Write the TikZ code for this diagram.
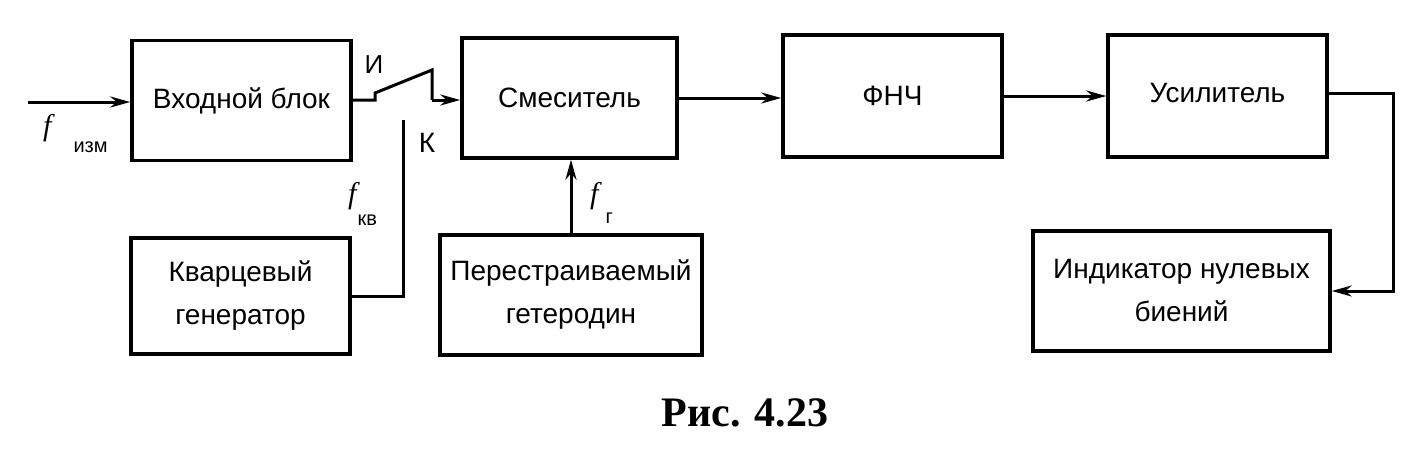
\documentclass[tikz,border=0pt]{standalone}
\usepackage{fontspec}
\setmainfont{Liberation Sans}
\newfontfamily\capfont{Liberation Serif}
\usetikzlibrary{arrows.meta}
\tikzset{
	block/.style = {draw, line width = 3.5pt, minimum width = 219pt, minimum height = 120pt, align = center, font = \fontsize{28}{43}\selectfont},
	link/.style = {line width = 3pt},
	lab/.style = {inner sep = 0pt, anchor = base west, font = \capfont\itshape\fontsize{30}{30}\selectfont}
}
\newcommand{\subtext}[1]{{\fontsize{20}{20}\selectfont\upshape\rmfamily #1}}
\begin{document}
\begin{tikzpicture}[x = 1pt, y = -1pt, > = {Stealth[length = 20pt, width = 11pt]}]
	\useasboundingbox (0,0) rectangle (1410,455);
	% blocks
	\node [block] (input) at (241.5,100.5) {Входной блок};
	\node [block, minimum width = 215pt] (mixer) at (569.5,98) {Смеситель};
	\node [block, minimum height = 122pt] (lpf) at (892.5,96) {ФНЧ};
	\node [block, minimum height = 122pt] (amp) at (1217.5,96) {\raisebox{7pt}{Усилитель}};
	\node [block, minimum width = 297pt] (ind) at (1181.5,291) {Индикатор нулевых\\биений};
	\node [block, minimum height = 116pt] (quartz) at (240.5,296) {Кварцевый\\генератор};
	\node [block, minimum width = 262pt] (lo) at (571,295) {Перестраиваемый\\гетеродин};
	% switch and bends
	\coordinate (src) at (28,102);
	\coordinate (pivot) at (375,100);
	\coordinate (blade) at (375,93);
	\coordinate (tip) at (432,70);
	\coordinate (drop) at (432,100);
	\coordinate (kpin) at (403,120);
	\coordinate (turn) at (1393,93);
	% connectors
	\draw [link, ->] (src) -- (src -| input.west);
	\draw [link] (input.east |- pivot) -- (pivot) -- (blade) -- (tip) -- (drop);
	\draw [link, ->] (drop) -- (drop -| mixer.west);
	\draw [link] (kpin) -- (kpin |- quartz.east) -- (quartz.east);
	\draw [link, ->] (lo.north) -- (lo.north |- mixer.south);
	\draw [link, ->] (mixer.east) -- (mixer.east -| lpf.west);
	\draw [link, ->] (lpf.east) -- (amp.west);
	\draw [link, ->] (amp.east |- turn) -- (turn) -- (turn |- ind.east) -- (ind.east);
	% labels
	\node [font = \fontsize{26}{26}\selectfont] (pos1) at (374,65) {И};
	\node [font = \fontsize{28}{28}\selectfont] (pos2) at (427,143) {К};
	\node [lab] (fin) at (43,135) {f\hspace{22pt}\raisebox{-17pt}{\subtext{изм}}};
	\node [lab] (fkv) at (348,203) {f\hspace{1pt}\raisebox{-22pt}{\subtext{кв}}};
	\node [lab] (flo) at (590,203) {f\hspace{7pt}\raisebox{-20pt}{\subtext{г}}};
	\node (caption) at (745,413) {\capfont\bfseries\fontsize{42}{42}\selectfont Рис. 4.23};
\end{tikzpicture}
\end{document}
